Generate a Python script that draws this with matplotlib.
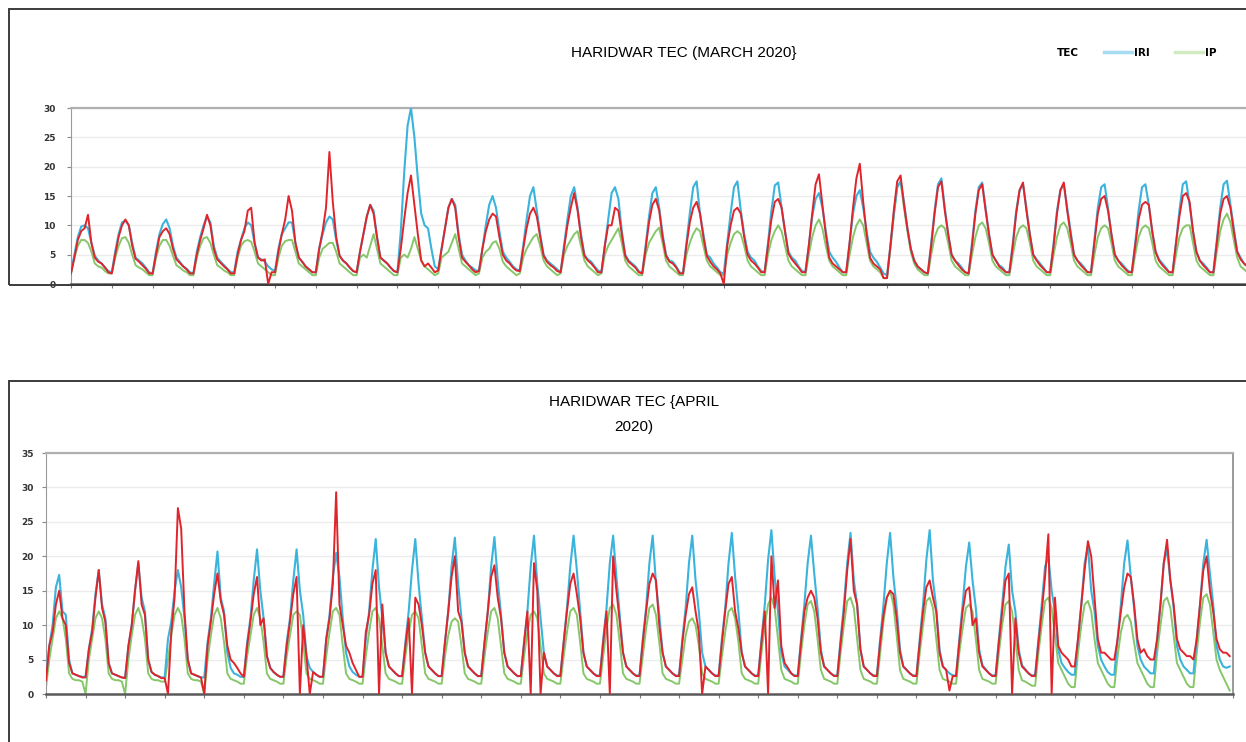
import numpy as np
import matplotlib
matplotlib.use("Agg")
import matplotlib.pyplot as plt
from matplotlib.patches import Rectangle
from matplotlib.lines import Line2D

# values every 2 hours (00,02,...,22 UT), one row per day

# ---- March 2020 (days 1-29 visible) ----
tec_mar = [
    [1.8, 4.5, 7.5, 9.0, 9.5, 11.8, 7.0, 4.5, 3.8, 3.5, 2.8, 2.0],
    [1.8, 5.0, 8.0, 10.0, 11.0, 10.0, 6.5, 4.3, 3.8, 3.2, 2.6, 1.8],
    [1.8, 5.0, 8.0, 9.0, 9.5, 8.5, 6.0, 4.2, 3.6, 3.0, 2.5, 1.8],
    [1.8, 5.0, 7.5, 9.5, 11.8, 10.0, 6.0, 4.2, 3.6, 3.0, 2.5, 1.8],
    [1.8, 5.0, 7.5, 9.0, 12.5, 13.0, 7.0, 4.5, 4.0, 4.2, 0.0, 2.0],
    [2.0, 5.5, 8.5, 11.0, 15.0, 12.5, 7.0, 4.5, 3.8, 3.0, 2.5, 2.0],
    [2.0, 6.0, 9.0, 13.0, 22.5, 14.0, 8.0, 4.8, 4.0, 3.5, 2.8, 2.2],
    [2.0, 5.5, 8.5, 11.5, 13.5, 12.0, 8.0, 4.5, 4.0, 3.5, 2.8, 2.2],
    [2.0, 6.0, 11.0, 15.5, 18.5, 13.5, 8.5, 4.0, 3.0, 3.5, 2.8, 2.0],
    [2.3, 6.0, 9.5, 13.0, 14.5, 13.0, 8.0, 4.5, 3.8, 3.2, 2.5, 2.0],
    [2.2, 6.0, 9.0, 11.0, 12.0, 11.5, 8.0, 5.0, 4.0, 3.5, 2.8, 2.3],
    [2.2, 6.0, 9.5, 12.0, 13.0, 11.5, 8.0, 4.8, 3.8, 3.2, 2.8, 2.2],
    [2.0, 6.0, 10.0, 13.0, 15.5, 12.5, 8.0, 4.8, 4.0, 3.5, 2.8, 2.0],
    [2.0, 6.5, 10.0, 10.0, 13.0, 12.5, 8.5, 4.8, 3.8, 3.3, 2.8, 2.0],
    [1.8, 6.0, 10.5, 13.5, 14.5, 12.5, 8.0, 4.8, 3.8, 3.5, 2.8, 1.8],
    [1.8, 6.5, 10.5, 13.0, 14.0, 12.0, 8.0, 4.8, 3.8, 3.0, 2.5, 1.8],
    [0.0, 6.5, 10.0, 12.5, 13.0, 12.0, 8.0, 5.0, 4.0, 3.5, 2.8, 2.0],
    [2.0, 6.5, 11.0, 14.0, 14.5, 13.0, 9.0, 5.2, 4.2, 3.5, 2.8, 2.0],
    [2.0, 6.5, 12.0, 17.0, 18.7, 13.5, 8.5, 4.5, 3.5, 3.0, 2.5, 2.0],
    [2.0, 7.0, 13.0, 18.0, 20.5, 14.0, 8.5, 4.5, 3.5, 3.0, 2.5, 1.0],
    [1.0, 6.5, 12.5, 17.5, 18.5, 13.5, 9.5, 6.0, 4.0, 3.0, 2.5, 2.0],
    [1.8, 6.5, 12.0, 16.5, 17.5, 12.5, 8.5, 5.0, 4.0, 3.2, 2.5, 2.0],
    [1.8, 6.5, 12.0, 16.0, 17.0, 12.5, 8.5, 5.0, 4.0, 3.0, 2.5, 2.0],
    [2.0, 6.5, 12.0, 16.0, 17.3, 12.5, 8.5, 5.0, 4.0, 3.2, 2.6, 2.0],
    [2.0, 6.5, 12.0, 16.0, 17.3, 12.5, 8.5, 5.0, 4.0, 3.2, 2.6, 2.0],
    [2.0, 7.0, 12.0, 14.5, 15.0, 12.5, 8.5, 5.0, 4.0, 3.2, 2.6, 2.0],
    [2.0, 6.5, 11.0, 13.5, 14.0, 13.5, 9.0, 5.5, 4.0, 3.2, 2.6, 2.0],
    [2.0, 7.0, 11.5, 15.0, 15.5, 14.0, 9.0, 5.5, 4.0, 3.2, 2.6, 2.0],
    [2.0, 7.0, 12.0, 14.5, 15.0, 13.0, 9.0, 5.5, 4.2, 3.5, 3.0, 2.2],
]
iri_mar = [
    [2.0, 5.0, 8.0, 9.8, 10.0, 9.5, 7.0, 4.8, 4.0, 3.5, 2.8, 2.2],
    [2.0, 5.5, 8.5, 10.5, 10.8, 10.0, 7.0, 4.5, 4.0, 3.5, 2.8, 2.0],
    [1.8, 5.5, 8.5, 10.2, 11.0, 9.5, 6.5, 4.5, 3.8, 3.0, 2.6, 2.0],
    [1.8, 5.5, 8.0, 10.0, 11.5, 10.5, 6.5, 4.5, 3.8, 3.2, 2.6, 2.0],
    [2.0, 5.5, 7.5, 9.5, 10.5, 10.0, 7.0, 4.5, 4.2, 3.8, 3.0, 2.5],
    [2.2, 6.0, 8.5, 9.5, 10.5, 10.5, 7.0, 4.5, 3.8, 3.0, 2.5, 2.0],
    [2.0, 6.0, 8.5, 10.5, 11.5, 11.0, 7.5, 4.8, 4.0, 3.5, 2.8, 2.2],
    [2.0, 5.5, 8.5, 11.5, 13.5, 12.5, 8.0, 4.5, 4.0, 3.5, 2.8, 2.2],
    [2.0, 9.0, 19.0, 27.0, 30.0, 25.0, 18.0, 12.0, 10.0, 9.5, 6.0, 3.0],
    [2.5, 6.0, 9.5, 13.0, 14.5, 13.5, 8.5, 5.0, 4.0, 3.2, 2.8, 2.3],
    [2.3, 6.0, 10.0, 13.5, 15.0, 13.0, 9.0, 5.5, 4.5, 3.8, 3.0, 2.5],
    [2.3, 6.5, 11.0, 15.0, 16.5, 12.5, 8.5, 5.0, 4.0, 3.5, 3.0, 2.5],
    [2.0, 6.5, 11.0, 15.0, 16.5, 13.0, 8.5, 5.0, 4.2, 3.8, 3.0, 2.3],
    [2.0, 6.5, 11.0, 15.5, 16.5, 14.5, 9.0, 5.0, 4.0, 3.5, 3.0, 2.2],
    [1.8, 6.5, 11.5, 15.5, 16.5, 13.0, 8.5, 5.0, 4.0, 3.8, 3.0, 2.0],
    [1.8, 7.0, 12.0, 16.5, 17.5, 12.0, 8.5, 5.0, 4.5, 3.5, 2.8, 2.0],
    [1.8, 7.0, 12.0, 16.5, 17.5, 12.5, 8.5, 5.5, 4.5, 4.0, 3.0, 2.2],
    [2.0, 7.0, 12.5, 16.8, 17.3, 13.0, 9.0, 5.5, 4.5, 4.0, 3.0, 2.2],
    [2.0, 6.5, 11.5, 14.5, 15.5, 13.0, 9.0, 5.5, 4.5, 3.8, 2.8, 2.0],
    [2.0, 7.0, 12.0, 15.0, 16.0, 13.0, 9.0, 5.5, 4.5, 3.8, 2.8, 1.8],
    [1.5, 6.5, 12.0, 16.5, 17.5, 14.0, 9.5, 6.0, 4.0, 3.0, 2.5, 2.0],
    [1.8, 7.0, 12.5, 17.0, 18.0, 13.0, 8.5, 5.0, 4.0, 3.5, 2.8, 2.0],
    [1.8, 7.0, 12.5, 16.5, 17.3, 13.0, 8.5, 5.0, 4.0, 3.2, 2.8, 2.0],
    [2.0, 7.0, 12.5, 16.0, 17.0, 13.0, 8.5, 5.0, 4.2, 3.5, 2.8, 2.0],
    [2.0, 7.0, 12.5, 16.0, 17.0, 13.0, 9.0, 5.0, 4.0, 3.5, 2.8, 2.0],
    [2.0, 7.5, 13.0, 16.5, 17.0, 13.0, 8.5, 5.0, 4.0, 3.5, 2.8, 2.2],
    [2.0, 7.0, 12.5, 16.5, 17.0, 13.5, 9.0, 5.5, 4.2, 3.5, 2.8, 2.0],
    [2.0, 7.0, 12.5, 17.0, 17.5, 13.5, 9.0, 5.5, 4.0, 3.5, 2.8, 2.0],
    [2.0, 7.5, 13.0, 17.0, 17.6, 13.5, 9.5, 5.5, 4.5, 3.5, 3.0, 2.2],
]
ip_mar = [
    [1.8, 4.5, 6.5, 7.5, 7.5, 7.0, 5.5, 3.5, 3.0, 2.8, 2.2, 1.8],
    [1.8, 4.5, 6.5, 7.8, 8.0, 7.0, 5.0, 3.2, 2.8, 2.5, 2.0, 1.5],
    [1.5, 4.5, 6.5, 7.5, 7.5, 6.5, 4.8, 3.2, 2.8, 2.3, 2.0, 1.5],
    [1.5, 4.5, 6.5, 7.8, 8.0, 7.0, 5.0, 3.2, 2.8, 2.3, 2.0, 1.5],
    [1.5, 4.5, 6.5, 7.3, 7.5, 7.2, 5.5, 3.5, 3.0, 2.5, 2.0, 1.5],
    [1.5, 4.5, 6.5, 7.3, 7.5, 7.5, 5.5, 3.5, 3.0, 2.5, 2.0, 1.5],
    [1.5, 4.5, 6.0, 6.5, 7.0, 7.0, 5.5, 3.5, 3.0, 2.5, 2.0, 1.5],
    [1.5, 4.5, 5.0, 4.5, 6.5, 8.5, 6.0, 3.5, 3.0, 2.5, 2.0, 1.5],
    [1.5, 4.5, 5.0, 4.5, 6.0, 8.0, 6.0, 4.0, 3.0, 2.5, 2.0, 1.5],
    [1.8, 4.5, 5.0, 5.5, 7.0, 8.5, 6.0, 3.5, 3.0, 2.5, 2.0, 1.5],
    [1.8, 4.5, 5.5, 6.0, 7.0, 7.3, 6.0, 3.8, 3.0, 2.5, 2.0, 1.5],
    [1.8, 4.5, 6.0, 7.0, 8.0, 8.5, 6.5, 4.0, 3.0, 2.5, 2.0, 1.5],
    [1.8, 5.0, 6.5, 7.5, 8.5, 9.0, 6.5, 4.0, 3.0, 2.5, 2.0, 1.5],
    [1.8, 5.0, 6.5, 7.5, 8.5, 9.5, 7.0, 4.0, 3.0, 2.5, 2.0, 1.5],
    [1.5, 5.0, 7.0, 8.0, 9.0, 9.6, 7.0, 4.0, 3.0, 2.5, 2.0, 1.5],
    [1.5, 5.0, 7.0, 8.5, 9.5, 9.0, 6.5, 4.0, 3.0, 2.5, 2.0, 1.5],
    [1.5, 5.0, 7.0, 8.5, 9.0, 8.5, 6.5, 4.0, 3.0, 2.5, 2.0, 1.5],
    [1.5, 5.0, 7.5, 9.0, 10.0, 9.0, 6.5, 4.0, 3.0, 2.5, 2.0, 1.5],
    [1.5, 5.0, 8.0, 10.0, 11.0, 9.5, 6.5, 4.0, 3.0, 2.5, 2.0, 1.5],
    [1.5, 5.0, 8.0, 10.0, 11.0, 10.0, 7.0, 4.0, 3.0, 2.5, 2.0, 1.0],
    [1.0, 6.0, 11.5, 16.5, 17.5, 13.0, 9.0, 5.5, 3.5, 2.5, 2.0, 1.5],
    [1.5, 5.0, 8.0, 9.5, 10.0, 9.5, 7.0, 4.0, 3.0, 2.5, 2.0, 1.5],
    [1.5, 5.0, 8.0, 10.0, 10.5, 9.5, 7.0, 4.0, 3.0, 2.5, 2.0, 1.5],
    [1.5, 5.0, 8.0, 9.5, 10.0, 9.5, 7.0, 4.0, 3.0, 2.5, 2.0, 1.5],
    [1.5, 5.0, 8.0, 10.0, 10.5, 9.5, 7.0, 4.0, 3.0, 2.5, 2.0, 1.5],
    [1.5, 5.0, 8.0, 9.5, 10.0, 9.5, 7.0, 4.0, 3.0, 2.5, 2.0, 1.5],
    [1.5, 5.0, 8.0, 9.5, 10.0, 9.5, 7.0, 4.0, 3.0, 2.5, 2.0, 1.5],
    [1.5, 5.0, 8.0, 9.5, 10.0, 10.0, 7.0, 4.0, 3.0, 2.5, 2.0, 1.5],
    [1.5, 5.5, 9.0, 11.0, 12.0, 10.5, 7.5, 4.5, 3.0, 2.5, 2.0, 1.5],
]

# ---- April 2020 (days 1-30) ----
tec_apr = [
    [2.0, 7.0, 9.0, 13.0, 15.0, 11.0, 10.0, 4.5, 3.0, 2.8, 2.6, 2.4],
    [2.4, 6.5, 9.0, 14.0, 18.0, 12.5, 10.5, 4.5, 3.0, 2.8, 2.6, 2.4],
    [2.3, 7.0, 10.0, 15.0, 19.3, 13.0, 11.5, 5.0, 3.2, 2.8, 2.6, 2.3],
    [2.3, 0.0, 9.0, 14.0, 27.0, 24.0, 12.0, 5.0, 3.0, 2.8, 2.6, 2.4],
    [0.0, 7.0, 10.5, 14.5, 17.5, 13.5, 11.5, 7.0, 5.0, 4.5, 3.8, 3.0],
    [2.5, 7.0, 10.5, 14.5, 17.0, 10.0, 11.0, 5.5, 3.8, 3.2, 2.8, 2.5],
    [2.5, 7.0, 10.5, 14.5, 17.0, 0.0, 10.0, 5.5, 0.0, 3.2, 2.8, 2.5],
    [2.5, 8.0, 11.0, 16.0, 29.3, 13.0, 10.0, 7.0, 6.0, 4.5, 3.5, 2.5],
    [2.5, 9.0, 11.5, 16.0, 18.0, 0.0, 13.0, 6.0, 4.0, 3.5, 3.0, 2.6],
    [2.6, 7.0, 11.0, 0.0, 14.0, 13.0, 10.0, 6.0, 4.0, 3.5, 3.0, 2.6],
    [2.6, 7.5, 12.0, 17.0, 20.0, 12.0, 10.5, 6.0, 4.0, 3.5, 3.0, 2.6],
    [2.6, 7.5, 12.0, 17.0, 18.7, 14.0, 11.0, 6.0, 4.0, 3.5, 3.0, 2.6],
    [2.6, 7.5, 12.0, 0.0, 19.0, 15.0, 0.0, 6.0, 4.0, 3.5, 3.0, 2.6],
    [2.6, 7.5, 12.0, 16.0, 17.5, 14.5, 11.0, 6.0, 4.0, 3.5, 3.0, 2.6],
    [2.6, 7.5, 12.0, 0.0, 20.0, 15.0, 10.5, 6.0, 4.0, 3.5, 3.0, 2.6],
    [2.6, 7.5, 12.0, 16.0, 17.5, 16.5, 10.0, 6.0, 4.0, 3.5, 3.0, 2.6],
    [2.6, 7.5, 11.5, 14.5, 15.5, 12.0, 9.0, 0.0, 4.0, 3.5, 3.0, 2.6],
    [2.6, 7.5, 12.0, 16.0, 17.0, 12.0, 9.5, 6.0, 4.0, 3.5, 3.0, 2.6],
    [2.6, 7.5, 12.0, 0.0, 20.0, 12.5, 16.5, 7.0, 4.5, 3.8, 3.0, 2.6],
    [2.6, 7.5, 12.0, 14.0, 15.0, 14.0, 11.0, 6.0, 4.0, 3.5, 3.0, 2.6],
    [2.6, 7.5, 12.0, 18.0, 22.5, 15.0, 13.0, 6.5, 4.0, 3.5, 3.0, 2.6],
    [2.6, 7.5, 11.5, 14.0, 15.0, 14.5, 11.0, 6.0, 4.0, 3.5, 3.0, 2.6],
    [2.6, 7.5, 12.0, 15.5, 16.5, 14.0, 12.0, 6.0, 4.0, 3.5, 0.5, 2.6],
    [2.6, 7.5, 12.0, 15.0, 15.5, 10.0, 11.0, 6.0, 4.0, 3.5, 3.0, 2.6],
    [2.6, 7.5, 12.0, 16.5, 17.5, 0.0, 11.0, 6.0, 4.0, 3.5, 3.0, 2.6],
    [2.6, 7.5, 12.0, 17.0, 23.2, 0.0, 14.0, 7.0, 6.0, 5.5, 5.0, 4.0],
    [4.0, 8.0, 13.0, 18.0, 22.2, 20.0, 14.0, 8.0, 6.0, 6.0, 5.5, 5.0],
    [5.0, 8.0, 12.0, 15.5, 17.5, 17.0, 13.0, 8.0, 6.0, 6.5, 5.5, 5.0],
    [5.0, 8.0, 13.0, 19.0, 22.4, 16.5, 13.0, 8.0, 6.5, 6.0, 5.5, 5.5],
    [5.0, 8.0, 13.0, 18.0, 20.0, 15.0, 12.0, 8.0, 6.5, 6.0, 6.0, 5.5],
]
iri_apr = [
    [2.5, 7.0, 10.0, 15.5, 17.3, 12.0, 11.5, 5.0, 3.0, 2.8, 2.6, 2.5],
    [2.5, 6.5, 9.5, 14.5, 18.0, 13.0, 11.0, 4.5, 3.0, 2.8, 2.6, 2.4],
    [2.4, 7.0, 10.0, 15.0, 19.0, 14.0, 12.0, 5.0, 3.2, 2.8, 2.6, 2.4],
    [2.4, 8.0, 10.5, 15.0, 18.0, 15.5, 11.0, 5.0, 3.0, 2.8, 2.6, 2.4],
    [2.4, 7.5, 11.0, 16.0, 20.7, 14.0, 12.0, 6.0, 3.8, 3.0, 2.8, 2.5],
    [2.5, 7.5, 11.0, 16.5, 21.0, 15.0, 11.0, 5.5, 3.8, 3.2, 2.8, 2.5],
    [2.5, 7.5, 11.0, 16.5, 21.0, 15.0, 11.5, 5.5, 3.8, 3.2, 2.8, 2.5],
    [2.5, 8.0, 11.5, 17.0, 20.5, 17.0, 11.0, 6.0, 4.0, 3.2, 2.8, 2.5],
    [2.5, 8.0, 12.0, 18.0, 22.5, 15.5, 11.0, 6.0, 4.0, 3.5, 3.0, 2.6],
    [2.6, 7.5, 12.0, 18.0, 22.5, 16.0, 11.0, 6.0, 4.0, 3.5, 3.0, 2.6],
    [2.6, 7.5, 12.0, 18.5, 22.7, 16.0, 11.0, 6.0, 4.0, 3.5, 3.0, 2.6],
    [2.6, 7.5, 12.0, 18.5, 22.8, 16.5, 11.5, 6.0, 4.0, 3.5, 3.0, 2.6],
    [2.6, 7.5, 12.0, 18.5, 23.0, 16.0, 11.0, 6.0, 4.0, 3.5, 3.0, 2.7],
    [2.7, 7.5, 12.5, 18.5, 23.0, 18.0, 12.0, 6.0, 4.0, 3.5, 3.0, 2.7],
    [2.7, 8.0, 12.5, 19.0, 23.0, 17.0, 11.5, 6.0, 4.0, 3.5, 3.0, 2.7],
    [2.7, 8.0, 12.5, 19.0, 23.0, 16.0, 11.5, 6.0, 4.0, 3.5, 3.0, 2.7],
    [2.7, 8.0, 12.5, 19.0, 23.0, 16.5, 12.0, 6.0, 4.0, 3.5, 3.0, 2.7],
    [2.7, 8.0, 12.5, 19.0, 23.4, 17.0, 12.0, 6.0, 4.0, 3.5, 3.0, 2.7],
    [2.7, 8.0, 13.0, 19.5, 23.8, 17.0, 12.0, 6.0, 4.0, 3.5, 3.0, 2.7],
    [2.7, 8.0, 13.0, 19.0, 23.0, 17.5, 12.5, 6.5, 4.0, 3.5, 3.0, 2.7],
    [2.7, 8.0, 13.0, 19.0, 23.4, 16.5, 13.0, 6.5, 4.0, 3.5, 3.0, 2.7],
    [2.7, 8.0, 13.0, 19.0, 23.4, 17.0, 12.5, 6.5, 4.0, 3.5, 3.0, 2.7],
    [2.7, 8.0, 13.0, 19.5, 23.8, 16.5, 12.5, 6.5, 4.0, 3.5, 3.0, 2.7],
    [2.7, 8.0, 13.0, 18.5, 22.0, 16.5, 12.5, 6.5, 4.2, 3.6, 3.0, 2.7],
    [2.7, 8.0, 13.0, 18.5, 21.7, 15.0, 12.0, 6.5, 4.2, 3.6, 3.0, 2.7],
    [2.8, 8.0, 13.0, 18.5, 20.0, 15.0, 12.0, 6.5, 4.5, 3.8, 3.2, 2.8],
    [2.8, 8.0, 13.0, 19.0, 21.5, 15.0, 12.0, 7.0, 5.0, 4.0, 3.2, 2.8],
    [2.8, 8.0, 13.0, 19.0, 22.3, 17.0, 12.5, 7.0, 5.0, 4.0, 3.5, 3.0],
    [3.0, 8.0, 13.0, 19.0, 21.0, 16.5, 12.5, 7.0, 5.0, 4.0, 3.5, 3.0],
    [3.0, 8.0, 13.0, 19.0, 22.4, 17.5, 13.0, 7.0, 5.0, 4.0, 3.8, 4.0],
]
ip_apr = [
    [1.0, 5.0, 8.0, 11.0, 12.0, 11.0, 8.0, 3.0, 2.2, 2.0, 2.0, 1.8],
    [0.0, 5.0, 8.0, 11.0, 12.0, 11.0, 8.0, 3.0, 2.2, 2.0, 2.0, 1.8],
    [0.0, 5.0, 8.5, 11.5, 12.5, 11.0, 8.0, 3.0, 2.2, 2.0, 2.0, 1.8],
    [1.8, 5.0, 8.5, 11.5, 12.5, 11.5, 8.0, 3.0, 2.2, 2.0, 2.0, 1.8],
    [0.0, 5.0, 8.5, 11.5, 12.5, 11.0, 7.5, 3.0, 2.2, 2.0, 1.8, 1.5],
    [1.5, 5.5, 8.5, 11.5, 12.5, 11.0, 7.5, 3.0, 2.2, 2.0, 1.8, 1.5],
    [1.5, 5.5, 8.5, 11.5, 12.0, 11.5, 7.5, 3.0, 2.2, 2.0, 1.8, 1.5],
    [1.5, 5.5, 9.0, 12.0, 12.5, 11.5, 7.0, 3.0, 2.2, 2.0, 1.8, 1.5],
    [1.5, 5.5, 9.0, 12.0, 12.5, 11.0, 7.0, 3.0, 2.2, 2.0, 1.8, 1.5],
    [1.5, 5.5, 9.0, 11.5, 12.0, 11.0, 7.0, 3.0, 2.2, 2.0, 1.8, 1.5],
    [1.5, 5.5, 8.5, 10.5, 11.0, 10.5, 7.0, 3.0, 2.2, 2.0, 1.8, 1.5],
    [1.5, 5.5, 9.0, 12.0, 12.5, 11.0, 7.0, 3.0, 2.2, 2.0, 1.8, 1.5],
    [1.5, 5.5, 9.0, 11.5, 12.0, 11.0, 7.0, 3.0, 2.2, 2.0, 1.8, 1.5],
    [1.5, 5.5, 9.0, 12.0, 12.5, 11.5, 7.5, 3.0, 2.2, 2.0, 1.8, 1.5],
    [1.5, 5.5, 9.5, 12.5, 13.0, 11.5, 7.5, 3.0, 2.2, 2.0, 1.8, 1.5],
    [1.5, 5.5, 9.5, 12.5, 13.0, 11.5, 7.5, 3.0, 2.2, 2.0, 1.8, 1.5],
    [1.5, 5.0, 8.5, 10.5, 11.0, 10.0, 7.0, 3.0, 2.2, 2.0, 1.8, 1.5],
    [1.5, 5.5, 9.0, 12.0, 12.5, 11.0, 7.5, 3.0, 2.2, 2.0, 1.8, 1.5],
    [1.5, 6.0, 10.0, 13.0, 14.0, 12.5, 8.0, 3.5, 2.2, 2.0, 1.8, 1.5],
    [1.5, 6.0, 10.0, 13.0, 13.5, 12.0, 8.0, 3.5, 2.2, 2.0, 1.8, 1.5],
    [1.5, 6.0, 10.0, 13.5, 14.0, 12.5, 8.0, 3.5, 2.2, 2.0, 1.8, 1.5],
    [1.5, 6.0, 10.5, 14.0, 15.0, 13.0, 8.5, 3.5, 2.2, 2.0, 1.8, 1.5],
    [1.5, 6.0, 10.0, 13.5, 14.0, 12.5, 8.0, 3.5, 2.2, 2.0, 1.8, 1.5],
    [1.5, 6.0, 9.5, 12.5, 13.0, 12.0, 8.0, 3.5, 2.2, 2.0, 1.8, 1.5],
    [1.5, 6.0, 10.0, 13.0, 13.5, 12.0, 8.0, 3.5, 2.0, 1.8, 1.5, 1.2],
    [1.2, 6.0, 10.0, 13.5, 14.0, 12.5, 8.5, 4.5, 3.5, 2.5, 1.5, 1.0],
    [1.0, 6.0, 10.0, 13.0, 13.5, 12.0, 8.0, 4.5, 3.5, 2.5, 1.5, 1.0],
    [1.0, 5.5, 9.0, 11.0, 11.5, 10.5, 7.5, 4.5, 3.5, 2.5, 1.5, 1.0],
    [1.0, 6.0, 10.0, 13.5, 14.0, 12.5, 8.5, 4.5, 3.5, 2.5, 1.5, 1.0],
    [1.0, 6.0, 10.5, 14.0, 14.5, 13.0, 9.0, 5.0, 3.5, 2.5, 1.5, 0.5],
]

labels = ["TEC", "IRI", "IP"]
c_tec, c_iri, c_ip = "#e0242c", "#3ab4dc", "#86c76a"

W, H = 1246, 742
fig = plt.figure(figsize=(W / 100, H / 100), dpi=100)
plt.rcParams["font.family"] = ["Liberation Sans", "DejaVu Sans"]


def fx(px):
    return px / W


def fy(py):
    return 1 - py / H


# outer chart frames (run past the right edge like the screenshot)
fig.patches.append(Rectangle((fx(9), fy(285)), 1.2, fy(9) - fy(285),
                             transform=fig.transFigure, fill=False,
                             edgecolor="#3c3c3c", lw=1.4))
fig.patches.append(Rectangle((fx(9), -0.2), 1.2, fy(381) + 0.2,
                             transform=fig.transFigure, fill=False,
                             edgecolor="#3c3c3c", lw=1.4))


def draw(ax, tec, iri, ip, ndays, ymax, pad):
    t = np.arange(len(tec) * 12) / 12.0
    ax.plot(t, np.ravel(ip), color=c_ip, lw=1.4, zorder=2)
    ax.plot(t, np.ravel(iri), color=c_iri, lw=1.5, zorder=3)
    ax.plot(t, np.ravel(tec), color=c_tec, lw=1.4, zorder=4)
    ax.set_xlim(0, ndays)
    ax.set_ylim(0, ymax)
    ax.set_yticks(np.arange(0, ymax + 1, 5))
    ax.set_xticks(np.arange(0, ndays + 1, 1))
    ax.set_xticklabels([])
    ax.grid(axis="y", color="#ececec", lw=1.0)
    ax.set_axisbelow(True)
    ax.tick_params(axis="y", length=3, color="#888888", pad=pad,
                   labelsize=6.5, labelcolor="#333333")
    ax.tick_params(axis="x", length=3, color="#777777")
    for lab in ax.get_yticklabels():
        lab.set_fontweight("bold")
        lab.set_family("DejaVu Sans")
    ax.spines["top"].set_color("#b0b0b0")
    ax.spines["top"].set_linewidth(1.6)
    ax.spines["left"].set_color("#9a9a9a")
    ax.spines["right"].set_color("#9a9a9a")
    ax.spines["right"].set_linewidth(1.4)
    ax.spines["bottom"].set_color("#5a5a5a")
    ax.spines["bottom"].set_linewidth(1.8)


# March panel: 31 days wide, only ~29 days fall inside the picture
ax1 = fig.add_axes([fx(71), fy(284), fx(31 * 40.8), fy(108) - fy(284)])
draw(ax1, tec_mar, iri_mar, ip_mar, 31, 30, 8)

ax2 = fig.add_axes([fx(46), fy(694), fx(1233 - 46), fy(453) - fy(694)])
draw(ax2, tec_apr, iri_apr, ip_apr, 30, 35, 6)

fig.text(fx(684), fy(53), "HARIDWAR TEC (MARCH 2020}", ha="center",
         va="center", fontsize=11)
fig.text(fx(634), fy(402), "HARIDWAR TEC {APRIL", ha="center",
         va="center", fontsize=11)
fig.text(fx(634), fy(427), "2020)", ha="center", va="center", fontsize=11)

handles = [Line2D([], [], color="none", lw=2.5),
           Line2D([], [], color="#a6dcf2", lw=2.5),
           Line2D([], [], color="#d2eac0", lw=2.5)]
fig.legend(handles, labels, loc="center", bbox_to_anchor=(fx(1122), fy(53)),
           ncol=3, frameon=False, handlelength=2.7, handletextpad=0.2,
           columnspacing=2.4,
           prop={"family": "DejaVu Sans", "weight": "bold", "size": 7.5})

fig.savefig("out.png", dpi=100)
